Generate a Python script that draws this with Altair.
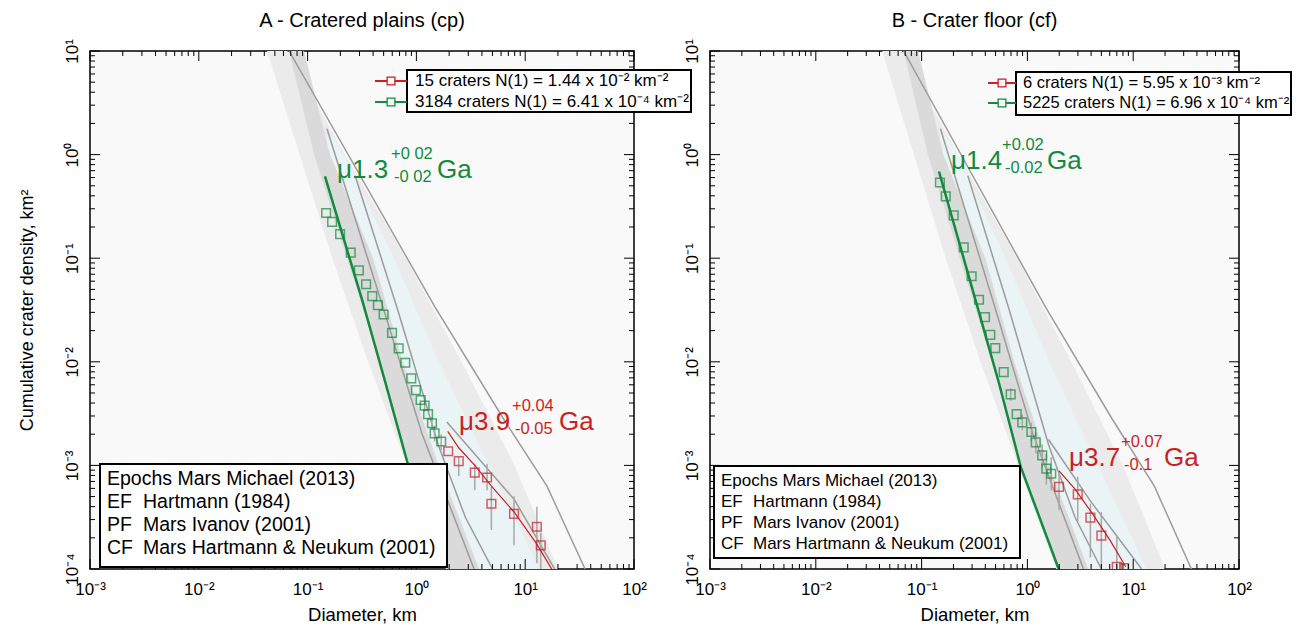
import altair as alt
import pandas as pd

# ---------------- data ----------------
# Panel A - cratered plains
A_GREEN_D = [0.148, 0.168, 0.199, 0.249, 0.296, 0.345, 0.393, 0.443, 0.50, 0.597,
             0.687, 0.79, 0.897, 0.99, 1.094, 1.19, 1.28, 1.39, 1.47, 1.69]
A_GREEN_N = [0.273, 0.224, 0.171, 0.113, 0.0764, 0.0561, 0.043, 0.0352, 0.0286, 0.019,
             0.01346, 0.0098, 0.00692, 0.00533, 0.00428, 0.00378, 0.00313, 0.00255, 0.00204, 0.0017]
A_RED_D = [1.96, 2.45, 3.44, 4.46, 4.89, 7.89, 12.8, 13.9]
A_RED_N = [0.00137, 0.0011, 0.000853, 0.000764, 0.000426, 0.000341, 0.000256, 0.000169]
A_ERR_D = [2.45, 3.44, 4.46, 4.89, 7.89, 12.8, 13.9, 1.19, 1.39, 1.47, 1.69]
A_ERR_LO = [0.00079, 0.000577, 0.000577, 0.000238, 0.00017, 0.000114, 0.0001, 0.0033, 0.0022, 0.0017, 0.0014]
A_ERR_HI = [0.00121, 0.00104, 0.00104, 0.00062, 0.000505, 0.000398, 0.000224, 0.0043, 0.0029, 0.0024, 0.0020]
A_FIT_G_D = [0.1445, 0.318, 0.522, 0.824, 1.86]
A_FIT_G_N = [0.615, 0.0391, 0.00615, 0.00108, 0.000105]
A_FIT_R_D = [1.94, 2.45, 3.44, 4.9, 7.89, 12.8, 17.7]
A_FIT_R_N = [0.00213, 0.00148, 0.001, 0.00063, 0.000355, 0.000174, 0.000098]
A_G4_D = [1.905, 7.943, 18.62]
A_G4_N = [0.00263, 0.000468, 0.0001]

# Panel B - crater floor
B_GREEN_D = [0.149, 0.169, 0.201, 0.25, 0.297, 0.349, 0.397, 0.446, 0.497, 0.597,
             0.695, 0.792, 0.895, 1.09, 1.20, 1.38, 1.51, 1.68]
B_GREEN_N = [0.538, 0.395, 0.259, 0.127, 0.067, 0.0397, 0.027, 0.0182, 0.01355, 0.00796,
             0.00485, 0.00313, 0.0026, 0.0021, 0.00167, 0.00125, 0.00093, 0.00083]
B_RED_D = [1.99, 2.99, 3.94, 5.0, 6.99, 8.2]
B_RED_N = [0.00062, 0.000525, 0.000313, 0.00021, 0.000105, 0.000102]
B_ERR_D = [1.99, 2.99, 3.94, 5.0, 7.0, 0.695, 0.895, 1.09, 1.20, 1.38, 1.51, 1.68]
B_ERR_LO = [0.000372, 0.000288, 0.000129, 0.000105, 0.0001, 0.0042, 0.0022, 0.0017, 0.0013, 0.00095, 0.00065, 0.00057]
B_ERR_HI = [0.000832, 0.000776, 0.000427, 0.000355, 0.000214, 0.0056, 0.0031, 0.0026, 0.0021, 0.0016, 0.0013, 0.0012]
B_FIT_G_D = [0.146, 0.324, 0.540, 0.865, 1.99]
B_FIT_G_N = [0.687, 0.0391, 0.00617, 0.000968, 0.000098]
B_FIT_R_D = [1.99, 2.82, 4.1, 6.03, 8.49]
B_FIT_R_N = [0.000885, 0.00059, 0.000344, 0.00019, 0.000105]
B_G4_D = [1.585, 3.981, 12.02]
B_G4_N = [0.00178, 0.000447, 0.0001]

# Shared chronology reference curves (grey)
G1_D = [0.0676, 1.479, 6.31, 15.85, 35.5]
G1_N = [10, 0.0339, 0.00282, 0.000631, 0.0001]
G2_D = [0.1507, 0.5035, 1.122, 3.388]
G2_N = [1.774, 0.03126, 0.00204, 0.0001]
G3_D = [0.2735, 0.676, 1.585, 2.818, 5.01]
G3_N = [0.625, 0.03126, 0.00158, 0.000316, 0.0001]

# Shaded epoch bands (left / right diameter at each density level)
BAND_N = [10, 1, 0.1, 0.01, 0.001, 0.0001]
LIGHT_L = [0.0424, 0.0845, 0.169, 0.36, 0.818, 1.87]
LIGHT_R = [0.065, 0.22, 0.8, 2.6, 8.0, 20.0]
DARK_L = [0.0675, 0.1146, 0.23, 0.46, 0.86, 1.91]
DARK_R = [0.0927, 0.16, 0.4, 0.75, 1.6, 3.76]
CYAN_N = [1.5, 1, 0.1, 0.01, 0.001, 0.0001]
CYAN_L = [0.15, 0.16, 0.4, 0.75, 1.6, 3.76]
CYAN_R = [0.17, 0.216, 0.622, 1.61, 4.65, 13.4]

X_MAJOR = [1e-3, 1e-2, 1e-1, 1, 10, 100]
Y_MAJOR = [1e-4, 1e-3, 1e-2, 1e-1, 1, 10]
X_MINOR = [m * d for d in X_MAJOR[:-1] for m in range(2, 10)]
Y_MINOR = [m * d for d in Y_MAJOR[:-1] for m in range(2, 10)]

GREEN = "#138a3e"
RED = "#cc1f24"
GREY = "#9c9c9c"
FONT = "Liberation Sans"

XS = alt.Scale(type="log", domain=[1e-3, 1e2], nice=False)
YS = alt.Scale(type="log", domain=[1e-4, 1e1], nice=False)

XLAB = ("datum.value < 0.005 ? '10⁻³' : datum.value < 0.05 ? '10⁻²' : datum.value < 0.5 ? '10⁻¹' : "
        "datum.value < 5 ? '10⁰' : datum.value < 50 ? '10¹' : '10²'")
YLAB = ("datum.value < 0.0005 ? '10⁻⁴' : datum.value < 0.005 ? '10⁻³' : datum.value < 0.05 ? '10⁻²' : "
        "datum.value < 0.5 ? '10⁻¹' : datum.value < 5 ? '10⁰' : '10¹'")


def xy(D, N):
    return pd.DataFrame({"D": D, "N": N})


def one():
    return alt.Data(values=[{}])


def text(t, x, y, size, color="black", align="left", baseline="alphabetic", weight="normal"):
    return alt.Chart(one()).mark_text(
        text=t, align=align, baseline=baseline, fontSize=size, font=FONT,
        color=color, fontWeight=weight
    ).encode(x=alt.value(x), y=alt.value(y))


def panel(W, H, title, p, show_ytitle):
    ykw = dict(values=Y_MAJOR, labelExpr=YLAB, ticks=False, grid=False, domain=False,
               labelAngle=270, labelFontSize=17, labelFont=FONT, labelPadding=9,
               labelColor="black", titleFontSize=18, titleFont=FONT, titleFontWeight="normal",
               titlePadding=27, titleColor="black")
    ykw["title"] = "Cumulative crater density, km²" if show_ytitle else None
    yax = alt.Axis(**ykw)
    xax = alt.Axis(values=X_MAJOR, labelExpr=XLAB, ticks=False, grid=False, domain=False,
                   labelFontSize=17, labelFont=FONT, labelPadding=12, labelColor="black",
                   labelFlush=False,
                   title="Diameter, km", titleFontSize=18.5, titleFont=FONT,
                   titleFontWeight="normal", titlePadding=8, titleColor="black")

    # every layer carries the identical axis definition so the shared axes merge cleanly
    def xenc(field="D"):
        return alt.X(f"{field}:Q", scale=XS, axis=xax)

    def yenc(field="N"):
        return alt.Y(f"{field}:Q", scale=YS, axis=yax)

    layers = []
    light = pd.DataFrame({"N": BAND_N, "L": LIGHT_L, "R": LIGHT_R})
    layers.append(alt.Chart(light).mark_area(orient="horizontal", color="#ebebeb", clip=True).encode(
        y=yenc(), x=xenc("L"), x2="R:Q"))
    cyan = pd.DataFrame({"N": CYAN_N, "L": CYAN_L, "R": CYAN_R})
    layers.append(alt.Chart(cyan).mark_area(orient="horizontal", color="#eaf3f5", clip=True).encode(
        y=yenc(), x=xenc("L"), x2="R:Q"))
    dark = pd.DataFrame({"N": BAND_N, "L": DARK_L, "R": DARK_R})
    layers.append(alt.Chart(dark).mark_area(orient="horizontal", color="#dadada", clip=True).encode(
        y=yenc(), x=xenc("L"), x2="R:Q"))
    for D, N in [(G1_D, G1_N), (G2_D, G2_N), (G3_D, G3_N), (p["g4"][0], p["g4"][1])]:
        layers.append(alt.Chart(xy(D, N)).mark_line(color=GREY, strokeWidth=1.5, clip=True).encode(
            x=xenc(), y=yenc()))
    err = pd.DataFrame({"D": p["err"][0], "lo": p["err"][1], "hi": p["err"][2]})
    layers.append(alt.Chart(err).mark_rule(color="#a8a8a8", strokeWidth=1.5, clip=True).encode(
        x=xenc(), y=yenc("lo"), y2="hi:Q"))
    layers.append(alt.Chart(xy(*p["fitg"])).mark_line(color=GREEN, strokeWidth=2.5, clip=True).encode(
        x=xenc(), y=yenc()))
    layers.append(alt.Chart(xy(*p["fitr"])).mark_line(color=RED, strokeWidth=1.2, clip=True).encode(
        x=xenc(), y=yenc()))
    layers.append(alt.Chart(xy(*p["green"])).mark_point(shape="square", filled=False, size=75,
                                                        strokeWidth=1.5, color=GREEN, clip=True).encode(
        x=xenc(), y=yenc()))
    layers.append(alt.Chart(xy(*p["red"])).mark_point(shape="square", filled=False, size=75,
                                                      strokeWidth=1.5, color=RED, clip=True).encode(
        x=xenc(), y=yenc()))
    for vals, L in [(X_MAJOR, 10), (X_MINOR, 5)]:
        base = alt.Chart(pd.DataFrame({"v": vals})).mark_rule(color="black", strokeWidth=1)
        layers.append(base.encode(x=xenc("v"), y=alt.value(H), y2=alt.value(H - L)))
        layers.append(base.encode(x=xenc("v"), y=alt.value(0), y2=alt.value(L)))
    for vals, L in [(Y_MAJOR, 10), (Y_MINOR, 5)]:
        base = alt.Chart(pd.DataFrame({"v": vals})).mark_rule(color="black", strokeWidth=1)
        layers.append(base.encode(y=yenc("v"), x=alt.value(0), x2=alt.value(L)))
        layers.append(base.encode(y=yenc("v"), x=alt.value(W), x2=alt.value(W - L)))
    for a in p["ages"]:
        col, x0, y0, main, sup, sub, xs_, ga = a
        layers.append(text(main, x0, y0, 26, col))
        layers.append(text(sup, xs_, y0 - 19, 16.5, col))
        layers.append(text(sub, xs_ + 3, y0 + 4, 16.5, col))
        layers.append(text("Ga", ga, y0, 26, col))
    bx0, bx1, by0, by1, lx0, rows, tx, fs = p["toplegend"]
    layers.append(alt.Chart(one()).mark_rect(fill="white", stroke="black", strokeWidth=2).encode(
        x=alt.value(bx0), x2=alt.value(bx1), y=alt.value(by0), y2=alt.value(by1)))
    for (col, ry, label) in rows:
        layers.append(alt.Chart(one()).mark_rule(color=col, strokeWidth=2).encode(
            x=alt.value(lx0), x2=alt.value(bx0), y=alt.value(ry)))
        layers.append(alt.Chart(one()).mark_point(shape="square", filled=True, fill="#f9f9f9",
                                                  stroke=col, strokeWidth=1.3, size=60, opacity=1).encode(
            x=alt.value((lx0 + bx0) / 2), y=alt.value(ry)))
        layers.append(text(label, tx, ry, fs, baseline="middle"))
    bx0, bx1, by0, by1, tx, nx, rows, fs = p["botlegend"]
    layers.append(alt.Chart(one()).mark_rect(fill="white", stroke="black", strokeWidth=2).encode(
        x=alt.value(bx0), x2=alt.value(bx1), y=alt.value(by0), y2=alt.value(by1)))
    for (ry, abbr, name) in rows:
        layers.append(text(abbr, tx, ry, fs, baseline="middle"))
        if name:
            layers.append(text(name, nx, ry, fs, baseline="middle"))
    return alt.layer(*layers).properties(
        width=W, height=H,
        title=alt.TitleParams(title, fontSize=20, font=FONT, fontWeight="normal", anchor="middle",
                              offset=8, color="black"))


LEG_ROWS = ["EF", "PF", "CF"]
LEG_NAMES = ["Hartmann (1984)", "Mars Ivanov (2001)", "Mars Hartmann & Neukum (2001)"]

pA = {
    "green": (A_GREEN_D, A_GREEN_N), "red": (A_RED_D, A_RED_N),
    "err": (A_ERR_D, A_ERR_LO, A_ERR_HI), "fitg": (A_FIT_G_D, A_FIT_G_N),
    "fitr": (A_FIT_R_D, A_FIT_R_N), "g4": (A_G4_D, A_G4_N),
    "ages": [(GREEN, 247, 127, "μ1.3", "+0 02", "-0 02", 301, 347),
             (RED, 369, 379, "μ3.9", "+0.04", "-0.05", 422, 469)],
    "toplegend": (317, 601, 19, 61, 285,
                  [(RED, 30, "15 craters N(1) = 1.44 x 10⁻² km⁻²"),
                   (GREEN, 51, "3184 craters N(1) = 6.41 x 10⁻⁴ km⁻²")], 325, 17),
    "botlegend": (10, 357, 413, 516, 17, 53,
                  [(428, "Epochs Mars Michael (2013)", None)] +
                  [(451 + 23 * i, LEG_ROWS[i], LEG_NAMES[i]) for i in range(3)], 19.5),
}
pB = {
    "green": (B_GREEN_D, B_GREEN_N), "red": (B_RED_D, B_RED_N),
    "err": (B_ERR_D, B_ERR_LO, B_ERR_HI), "fitg": (B_FIT_G_D, B_FIT_G_N),
    "fitr": (B_FIT_R_D, B_FIT_R_N), "g4": (B_G4_D, B_G4_N),
    "ages": [(GREEN, 241, 118, "μ1.4", "+0.02", "-0.02", 292, 337),
             (RED, 359, 415, "μ3.7", "+0.07", "-0.1", 411, 454)],
    "toplegend": (306, 581, 21, 64, 278,
                  [(RED, 32, "6 craters N(1) = 5.95 x 10⁻³ km⁻²"),
                   (GREEN, 52, "5225 craters N(1) = 6.96 x 10⁻⁴ km⁻²")], 313, 16.5),
    "botlegend": (4, 310, 415, 507, 11, 43,
                  [(430, "Epochs Mars Michael (2013)", None)] +
                  [(451 + 21 * i, LEG_ROWS[i], LEG_NAMES[i]) for i in range(3)], 17),
}

chartA = panel(544, 518, "A - Cratered plains (cp)", pA, True)
chartB = panel(529, 518, "B - Crater floor (cf)", pB, False)

chart = alt.hconcat(chartA, chartB, spacing=76, bounds="flush").properties(
    padding={"left": 9, "top": 1, "right": 0, "bottom": 0},
    background="white",
).configure_view(stroke="black", strokeWidth=1.5, fill="#f9f9f9")

chart.save("out.html", embed_options={"renderer": "svg", "actions": False})
